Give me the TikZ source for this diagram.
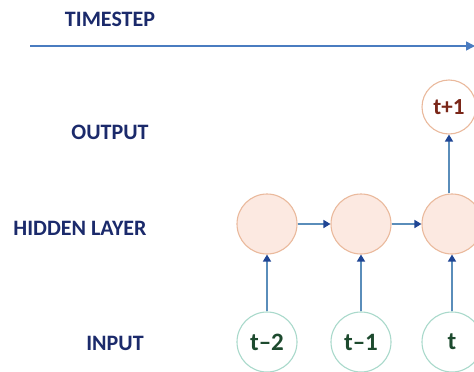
\documentclass[tikz,border=0pt]{standalone}
\usepackage{fontspec}
\setmainfont{Carlito}
\usetikzlibrary{arrows.meta}
\definecolor{navy}{HTML}{1B2A6B}
\definecolor{linkblue}{HTML}{5A8DBA}
\definecolor{tipblue}{HTML}{1F4594}
\definecolor{axisblue}{HTML}{4A7CC0}
\definecolor{peachfill}{HTML}{FCE9E1}
\definecolor{peachline}{HTML}{EAB99C}
\definecolor{tealline}{HTML}{A9D9CB}
\definecolor{greentext}{HTML}{1D4A2E}
\definecolor{redtext}{HTML}{7A2618}
\tikzset{
  lbl/.style={font=\fontsize{22}{24}\selectfont\bfseries, text=navy},
  hidcirc/.style={circle, minimum size=60pt, inner sep=0pt, draw=peachline, fill=peachfill, line width=1.1pt},
  incirc/.style={circle, minimum size=60pt, inner sep=0pt, draw=tealline, fill=white, line width=1.1pt, font=\fontsize{25}{26}\selectfont\bfseries, text=greentext},
  outcirc/.style={circle, minimum size=54pt, inner sep=0pt, draw=peachline, fill=white, line width=1.1pt, font=\fontsize{23}{26}\selectfont\bfseries, text=redtext},
  link/.style={draw=linkblue, line width=1.6pt, -{Triangle[length=7pt,width=8pt,color=tipblue]}}
}
\begin{document}
\begin{tikzpicture}[x=1pt,y=-1pt]
\useasboundingbox (0,0) rectangle (474,372);
\node[lbl] (ts) at (110,19) {TIMESTEP};
\node[lbl] (out) at (110,132) {OUTPUT};
\node[lbl] (hid) at (80,228) {HIDDEN LAYER};
\node[lbl] (inp) at (115,343) {INPUT};
\coordinate (axs) at (30,46);
\coordinate (axe) at (475,46);
\draw[draw=axisblue, line width=1.6pt, -{Triangle[length=9pt,width=9pt,color=axisblue]}] (axs) -- (axe);
\node[hidcirc] (h1) at (267,224) {};
\node[hidcirc] (h2) at (361,224) {};
\node[hidcirc] (h3) at (452,224) {};
\node[incirc] (i1) at (267,342) {t–2};
\node[incirc] (i2) at (361,342) {t–1};
\node[incirc] (i3) at (452,342) {t};
\node[outcirc] (o3) at (449,107) {t+1};
\draw[link] (h1) -- (h2);
\draw[link] (h2) -- (h3);
\draw[link] (i1) -- (h1);
\draw[link] (i2) -- (h2);
\draw[link] (i3) -- (h3);
\draw[link] (h3.north -| o3) -- (o3);
\end{tikzpicture}
\end{document}
